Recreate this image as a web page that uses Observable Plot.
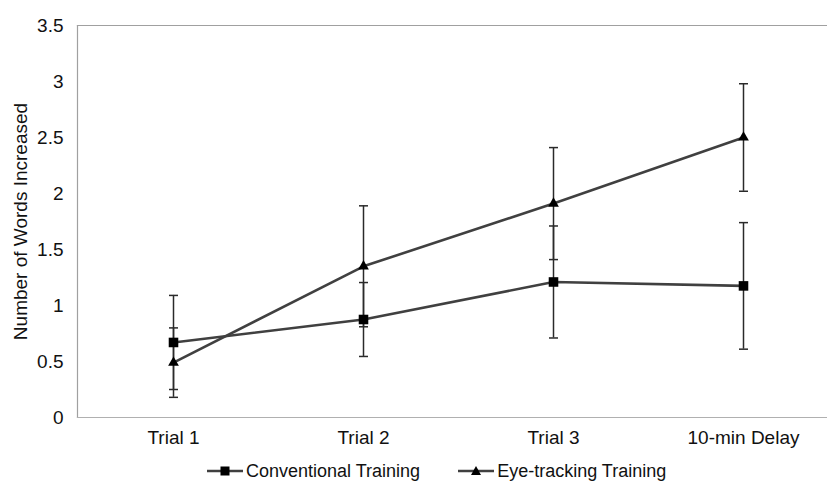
<!DOCTYPE html>
<html>
<head>
<meta charset="utf-8">
<script src="https://cdn.jsdelivr.net/npm/d3@7"></script>
<script src="https://cdn.jsdelivr.net/npm/@observablehq/plot@0.6"></script>
<style>
  html, body { margin: 0; padding: 0; background: #fff; }
  #wrap { position: relative; width: 827px; height: 481px; overflow: hidden; font-family: "Liberation Sans", Arial, Helvetica, sans-serif; }
  #legend { position: absolute; top: 459px; left: 207px; display: flex; align-items: center; font-size: 18px; color: #111; line-height: 24px; white-space: nowrap; }
  .item { display: flex; align-items: center; }
  .item svg { margin-right: 3px; }
</style>
</head>
<body>
<div id="wrap"><div id="chart"></div><div id="legend"></div></div>
<script>
const categories = ["Trial 1", "Trial 2", "Trial 3", "10-min Delay"];
const seriesNames = ["Conventional Training", "Eye-tracking Training"];
const conventional = [0.67, 0.875, 1.21, 1.175];
const conventionalErr = [0.42, 0.33, 0.50, 0.565];
const eyeTracking = [0.49, 1.35, 1.91, 2.50];
const eyeTrackingErr = [0.31, 0.54, 0.50, 0.48];
const yTicks = [0, 0.5, 1, 1.5, 2, 2.5, 3, 3.5];

const rows = [];
categories.forEach((c, i) => {
  rows.push({cat: c, series: seriesNames[0], v: conventional[i], e: conventionalErr[i]});
  rows.push({cat: c, series: seriesNames[1], v: eyeTracking[i], e: eyeTrackingErr[i]});
});

const capSymbol = { draw(ctx) { ctx.moveTo(-4.5, 0); ctx.lineTo(4.5, 0); } };
const font = "Liberation Sans, Arial, Helvetica, sans-serif";

const chart = Plot.plot({
  width: 827,
  height: 452,
  marginLeft: 77,
  marginRight: 0,
  marginTop: 25,
  marginBottom: 35,
  style: { fontFamily: font, fontSize: "19px", color: "#111", background: "#fff" },
  x: { type: "point", domain: categories, range: [172.3, 744], padding: 0 },
  y: { domain: [0, 3.5], range: [417, 25] },
  marks: [
    Plot.frame({ anchor: "left", stroke: "#a0a0a0", strokeWidth: 1.2 }),
    Plot.frame({ anchor: "top", stroke: "#a0a0a0", strokeWidth: 1.2 }),
    Plot.frame({ anchor: "bottom", stroke: "#b0b0b0", strokeWidth: 1.2 }),
    Plot.axisX({ tickSize: 0, tickPadding: 13, fontSize: 19, label: null }),
    Plot.axisY({ ticks: yTicks, tickSize: 0, tickPadding: 14, fontSize: 19,
      tickFormat: d => String(d), label: "Number of Words Increased",
      labelAnchor: "center", labelArrow: "none", labelOffset: 64 }),
    Plot.line(rows, { x: "cat", y: "v", z: "series", stroke: "#404040", strokeWidth: 2.6 }),
    Plot.ruleX(rows, { x: "cat", y1: d => d.v - d.e, y2: d => d.v + d.e, stroke: "#2a2a2a", strokeWidth: 1.5 }),
    Plot.dot(rows, { x: "cat", y: d => d.v + d.e, symbol: capSymbol, stroke: "#2a2a2a", strokeWidth: 1.5, fill: "none" }),
    Plot.dot(rows, { x: "cat", y: d => d.v - d.e, symbol: capSymbol, stroke: "#2a2a2a", strokeWidth: 1.5, fill: "none" }),
    Plot.dot(rows.filter(d => d.series === seriesNames[0]), { x: "cat", y: "v", symbol: "square", r: 5.4, fill: "#000", stroke: "none" }),
    Plot.dot(rows.filter(d => d.series === seriesNames[1]), { x: "cat", y: "v", symbol: "triangle", r: 4.0, fill: "#000", stroke: "none" })
  ]
});
document.getElementById("chart").appendChild(chart);

const legend = document.getElementById("legend");
const swatch = (kind) => {
  const shape = kind === "square"
    ? '<rect x="13.5" y="7.5" width="9" height="9" fill="#000"/>'
    : '<path d="M18,7 L23,16 L13,16 Z" fill="#000"/>';
  return `<svg width="36" height="24" viewBox="0 0 36 24"><line x1="0" y1="12" x2="36" y2="12" stroke="#404040" stroke-width="2.6"/>${shape}</svg>`;
};
legend.innerHTML =
  `<div class="item">${swatch("square")}<span>${seriesNames[0]}</span></div>` +
  `<div class="item" style="margin-left:38px">${swatch("triangle")}<span>${seriesNames[1]}</span></div>`;
</script>
</body>
</html>
